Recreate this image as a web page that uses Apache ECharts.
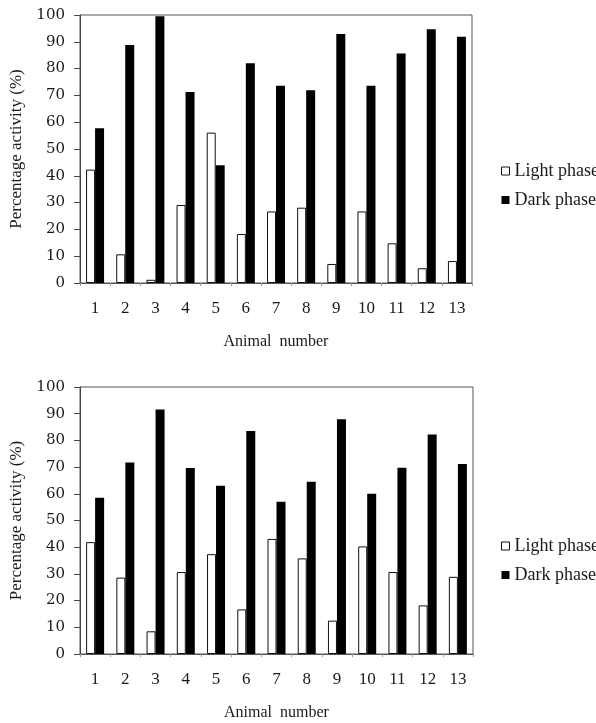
<!DOCTYPE html>
<html>
<head>
<meta charset="utf-8">
<script src="https://cdn.jsdelivr.net/npm/echarts@6/dist/echarts.min.js"></script>
<style>
html,body{margin:0;padding:0;background:#fff;}
#chart{width:596px;height:723px;}
</style>
</head>
<body>
<div id="chart"></div>
<script>
const categories = ['1','2','3','4','5','6','7','8','9','10','11','12','13'];
const yTicks = [0,10,20,30,40,50,60,70,80,90,100];
const topLight = [42.3, 10.7, 1.2, 29.1, 56.1, 18.3, 26.7, 28.1, 7.1, 26.7, 14.8, 5.5, 8.2];
const topDark  = [57.7, 88.8, 99.5, 71.3, 43.9, 82.0, 73.6, 71.9, 92.9, 73.6, 85.6, 94.7, 91.9];
const botLight = [41.9, 28.6, 8.5, 30.7, 37.4, 16.7, 43.1, 35.8, 12.5, 40.3, 30.7, 18.2, 28.9];
const botDark  = [58.5, 71.7, 91.6, 69.7, 63.0, 83.5, 57.0, 64.5, 87.9, 60.0, 69.8, 82.2, 71.2];
const seriesNames = ['Light phase', 'Dark phase'];
const xTitle = 'Animal  number';
const yTitle = 'Percentage activity (%)';

const serif = '"Liberation Serif", "Times New Roman", serif';
const wideSerif = '"DejaVu Serif", serif';

const chart = echarts.init(document.getElementById('chart'), null, {renderer: 'canvas'});

function xAxis(gi) {
  return {
    type: 'category', gridIndex: gi, data: categories,
    axisLine: {show: true, lineStyle: {color: '#555', width: 1}},
    axisTick: {show: true, length: 3, lineStyle: {color: '#999'}},
    axisLabel: {color: '#1a1a1a', fontFamily: serif, fontSize: 17, margin: 17},
    name: xTitle, nameLocation: 'middle', nameGap: 51,
    nameTextStyle: {color: '#1a1a1a', fontFamily: serif, fontSize: 16}
  };
}
function yAxis(gi) {
  return {
    type: 'value', gridIndex: gi, min: 0, max: 100, interval: 10,
    axisLine: {show: true, lineStyle: {color: '#444', width: 1}},
    axisTick: {show: true, length: 6, lineStyle: {color: '#444'}},
    splitLine: {show: false},
    axisLabel: {color: '#1a1a1a', fontFamily: wideSerif, fontSize: 15, margin: 15,
      formatter: v => yTicks.indexOf(v) >= 0 ? String(v) : ''},
    name: yTitle, nameLocation: 'middle', nameGap: 55, nameRotate: 90,
    nameTextStyle: {color: '#1a1a1a', fontFamily: serif, fontSize: 17}
  };
}
function bars(gi, light, dark) {
  return [
    {name: seriesNames[0], type: 'bar', xAxisIndex: gi, yAxisIndex: gi, data: light,
     barWidth: 9, barGap: '0%',
     itemStyle: {color: '#fff', borderColor: '#111', borderWidth: 1}},
    {name: seriesNames[1], type: 'bar', xAxisIndex: gi, yAxisIndex: gi, data: dark,
     barWidth: 9, barGap: '0%',
     itemStyle: {color: '#000', borderColor: '#000', borderWidth: 0}}
  ];
}
function legend(top) {
  return {
    orient: 'vertical', left: 496, top: top, itemWidth: 8, itemHeight: 8, itemGap: 11,
    icon: 'rect', selectedMode: false,
    textStyle: {color: '#1a1a1a', fontFamily: serif, fontSize: 18},
    data: [
      {name: seriesNames[0], itemStyle: {color: '#fff', borderColor: '#111', borderWidth: 1}},
      {name: seriesNames[1], itemStyle: {color: '#000'}}
    ]
  };
}

chart.setOption({
  animation: false,
  backgroundColor: '#fff',
  grid: [
    {left: 79, right: 124, top: 15, height: 268, show: true, borderColor: '#555', borderWidth: 1, backgroundColor: 'transparent'},
    {left: 79, right: 123, top: 387, height: 267, show: true, borderColor: '#555', borderWidth: 1, backgroundColor: 'transparent'}
  ],
  legend: [legend(157), legend(532)],
  xAxis: [xAxis(0), xAxis(1)],
  yAxis: [yAxis(0), yAxis(1)],
  series: [...bars(0, topLight, topDark), ...bars(1, botLight, botDark)]
});
</script>
</body>
</html>
